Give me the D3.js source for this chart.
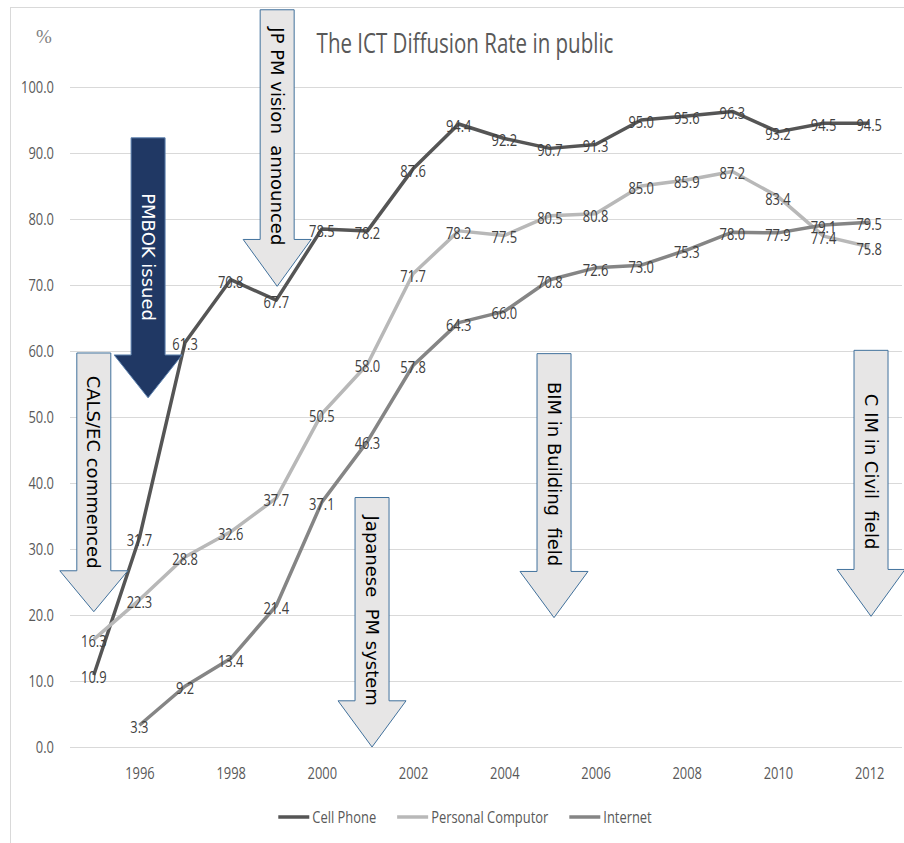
<!DOCTYPE html>
<meta charset="utf-8">
<style>
body {
    margin: 0;
    background: #fff;
}
svg {
    display: block;
}
.narrow {
    font-family: 'Open Sans', 'Liberation Sans', sans-serif;
}
.grid line {
    stroke: #d9d9d9;
    stroke-width: 1px;
}
.serie {
    fill: none;
    stroke-width: 3.5px;
    stroke-linejoin: round;
}
.dlabel {
    font-size: 17px;
    fill: #404040;
    text-anchor: middle;
}
.tick-label {
    font-size: 17px;
    fill: #595959;
}
.note text {
    font-family: 'DejaVu Sans', sans-serif;
    font-size: 18px;
    text-anchor: middle;
}
</style>
<body>
<svg width="904" height="843"></svg>
<script src="https://cdnjs.cloudflare.com/ajax/libs/d3/7.8.5/d3.min.js"></script>
<script>

// chart values
var years = [1995, 1996, 1997, 1998, 1999, 2000, 2001, 2002, 2003, 2004, 2005, 2006, 2007, 2008, 2009, 2010, 2011, 2012];
var cellPhone = [10.9, 31.7, 61.3, 70.8, 67.7, 78.5, 78.2, 87.6, 94.4, 92.2, 90.7, 91.3, 95.0, 95.6, 96.3, 93.2, 94.5, 94.5];
var personalComputer = [16.3, 22.3, 28.8, 32.6, 37.7, 50.5, 58.0, 71.7, 78.2, 77.5, 80.5, 80.8, 85.0, 85.9, 87.2, 83.4, 77.4, 75.8];
var internet = [null, 3.3, 9.2, 13.4, 21.4, 37.1, 46.3, 57.8, 64.3, 66.0, 70.8, 72.6, 73.0, 75.3, 78.0, 77.9, 79.1, 79.5];

var seriesNames = ["Cell Phone", "Personal Computor", "Internet"];
var seriesColors = ["#555555", "#b8b8b8", "#858585"];

var yTicks = [0, 10, 20, 30, 40, 50, 60, 70, 80, 90, 100];
var xTicks = [1996, 1998, 2000, 2002, 2004, 2006, 2008, 2010, 2012];

// event arrows: where they sit (year) and how far they reach (percent)
var noteLabels = ["PMBOK issued", "CALS/EC commenced", "JP PM vision  announced", "Japanese  PM system", "BIM in Building  field", "C IM in Civil  field"];
var noteYears = [1996.19, 1995.0, 1999.02, 2001.1, 2005.09, 2012.04];
var noteTop = [92.3, 59.7, 111.7, 37.8, 59.6, 60.1];
var noteNeck = [59.4, 26.7, 76.9, 7.0, 26.6, 26.9];
var noteTip = [52.9, 20.5, 69.8, 0, 19.6, 19.8];
var noteDark = [true, false, false, false, false, false];

// the original lettering is a tall, narrow face: squeeze the text horizontally
var squeezeX = 0.76;
function squeeze(sel) {
    sel.each(function() {
        var t = d3.select(this);
        var tx = +t.attr("x") || 0, ty = +t.attr("y") || 0;
        t.attr("x", null).attr("y", null)
            .attr("transform", "translate(" + tx + "," + ty + ") scale(" + squeezeX + ",1)");
    });
}

var svg = d3.select("svg");

svg.append("rect")
    .attr("x", 10.5)
    .attr("y", 7.5)
    .attr("width", 910)
    .attr("height", 860)
    .attr("fill", "#fff")
    .attr("stroke", "#d9d9d9");

var x = d3.scaleLinear()
    .domain([1994.5, 2012.5])
    .range([71, 892]);

var y = d3.scaleLinear()
    .domain([0, 100])
    .range([747, 87]);

// gridlines
svg.append("g")
    .attr("class", "grid")
    .selectAll("line")
    .data(yTicks)
    .enter().append("line")
        .attr("x1", 70)
        .attr("x2", 902)
        .attr("y1", function(d) { return Math.round(y(d)) + 0.5; })
        .attr("y2", function(d) { return Math.round(y(d)) + 0.5; });

// axes (labels only)
var yAxis = svg.append("g")
    .attr("transform", "translate(54,0)")
    .call(d3.axisLeft(y).tickValues(yTicks).tickSize(0).tickPadding(0).tickFormat(d3.format(".1f")));
yAxis.select(".domain").remove();
yAxis.selectAll("text").attr("class", "tick-label narrow").attr("dy", "0.35em").call(squeeze);

var xAxis = svg.append("g")
    .attr("transform", "translate(0,766)")
    .call(d3.axisBottom(x).tickValues(xTicks).tickSize(0).tickPadding(0).tickFormat(d3.format("d")));
xAxis.select(".domain").remove();
xAxis.selectAll("text").attr("class", "tick-label narrow").attr("y", 7).attr("dy", "0.35em").call(squeeze);

svg.append("text")
    .attr("x", 44)
    .attr("y", 43)
    .attr("text-anchor", "middle")
    .style("font-family", "'Liberation Serif', 'DejaVu Serif', serif")
    .style("font-size", "19px")
    .attr("fill", "#7f7f7f")
    .text("%");

svg.append("text")
    .attr("class", "narrow")
    .attr("x", 465)
    .attr("y", 53)
    .attr("text-anchor", "middle")
    .style("font-size", "27px")
    .attr("fill", "#595959")
    .text("The ICT Diffusion Rate in public")
    .call(squeeze);

// series
var series = [cellPhone, personalComputer, internet].map(function(vals, i) {
    return {
        name: seriesNames[i],
        color: seriesColors[i],
        points: years.map(function(yr, j) { return {year: yr, value: vals[j]}; })
            .filter(function(p) { return p.value != null; })
    };
});

var line = d3.line()
    .x(function(d) { return x(d.year); })
    .y(function(d) { return y(d.value); });

svg.append("g")
    .selectAll("path")
    .data(series)
    .enter().append("path")
        .attr("class", "serie")
        .attr("stroke", function(d) { return d.color; })
        .attr("d", function(d) { return line(d.points); });

// event arrows
var notes = svg.append("g")
    .selectAll("g")
    .data(noteLabels.map(function(label, i) {
        return {label: label, year: noteYears[i], top: noteTop[i], neck: noteNeck[i], tip: noteTip[i], dark: noteDark[i]};
    }))
    .enter().append("g")
        .attr("class", "note");

var bodyHalf = 17, headHalf = 34;

notes.append("path")
    .attr("d", function(d) {
        var cx = x(d.year), t = y(d.top), n = y(d.neck), p = y(d.tip);
        return "M" + (cx - bodyHalf) + "," + t +
            "L" + (cx + bodyHalf) + "," + t +
            "L" + (cx + bodyHalf) + "," + n +
            "L" + (cx + headHalf) + "," + n +
            "L" + cx + "," + p +
            "L" + (cx - headHalf) + "," + n +
            "L" + (cx - bodyHalf) + "," + n + "Z";
    })
    .attr("fill", function(d) { return d.dark ? "#203864" : "#e7e6e6"; })
    .attr("stroke", function(d) { return d.dark ? "#5f84b0" : "#41719c"; })
    .attr("stroke-width", 1);

notes.append("text")
    .attr("transform", function(d) {
        var cy = (y(d.top) + (y(d.neck) + y(d.tip)) / 2) / 2;
        return "translate(" + x(d.year) + "," + cy + ") rotate(90)";
    })
    .attr("dy", "0.35em")
    .attr("fill", function(d) { return d.dark ? "#fff" : "#000"; })
    .style("white-space", "pre")
    .text(function(d) { return d.label; });

// data labels
svg.append("g")
    .selectAll("g")
    .data(series)
    .enter().append("g")
    .selectAll("text")
    .data(function(d) { return d.points; })
    .enter().append("text")
        .attr("class", "dlabel narrow")
        .attr("x", function(d) { return x(d.year); })
        .attr("y", function(d) { return y(d.value) + 2; })
        .attr("dy", "0.35em")
        .text(function(d) { return d.value.toFixed(1); })
        .call(squeeze);

// legend
var legend = svg.append("g")
    .attr("transform", "translate(0,817)");

var items = legend.selectAll("g")
    .data(series)
    .enter().append("g");

items.append("line")
    .attr("x1", 0)
    .attr("x2", 31)
    .attr("stroke", function(d) { return d.color; })
    .attr("stroke-width", 3.5);

items.append("text")
    .attr("class", "narrow")
    .attr("x", 34)
    .attr("dy", "0.35em")
    .style("font-size", "17px")
    .attr("fill", "#595959")
    .text(function(d) { return d.name; })
    .call(squeeze);

var offsets = [], pos = 0;
items.each(function() {
    offsets.push(pos);
    pos += 34 + this.querySelector("text").getComputedTextLength() * squeezeX + 21;
});
var total = pos - 21;
items.attr("transform", function(d, i) {
    return "translate(" + (465 - total / 2 + offsets[i]) + ",0)";
});

</script>
</body>
